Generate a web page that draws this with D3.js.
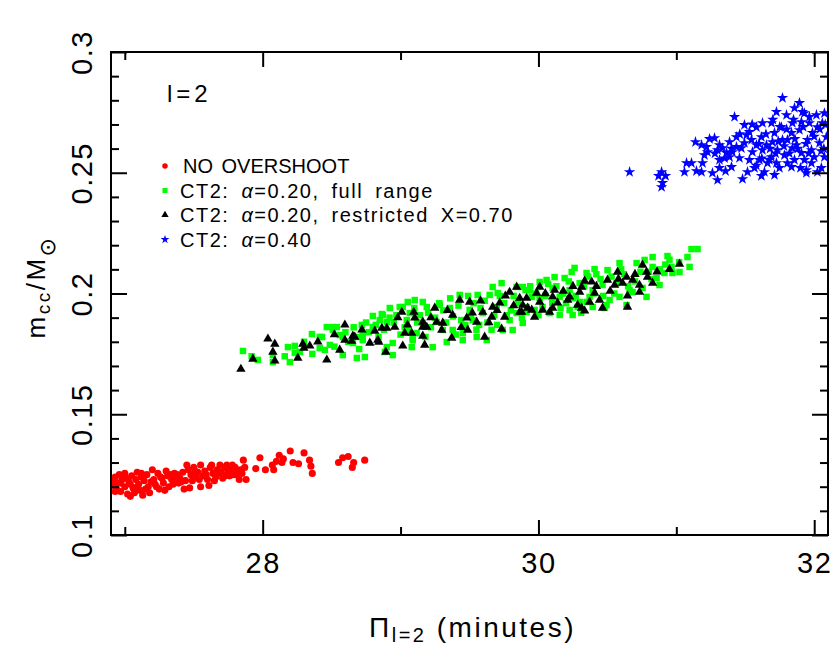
<!DOCTYPE html>
<html>
<head>
<meta charset="utf-8">
<script src="https://cdn.jsdelivr.net/npm/d3@7"></script>
<style>
  body { margin: 0; background: #fff; }
  svg { display: block; font-family: 'Liberation Sans', Arial, sans-serif; }
</style>
</head>
<body>
<div id="chart-area"></div>
<script>
// tick values
const xMajorTicks = [28, 30, 32];
const xMinorTicks = [27, 29, 31];
const yMajorTicks = [0.1, 0.15, 0.2, 0.25, 0.3];
const yMinorTicks = [0.11, 0.12, 0.13, 0.14, 0.16, 0.17, 0.18, 0.19, 0.21, 0.22, 0.23, 0.24, 0.26, 0.27, 0.28, 0.29];

const legendLabels = ['NO OVERSHOOT', 'CT2: |α|=0.20, full range', 'CT2: |α|=0.20, restricted X=0.70', 'CT2: |α|=0.40'];

// [period (min), m_cc/Msun]
const noOvershoot = [
  [26.91,0.1225],[26.92,0.1205],[26.93,0.1240],[26.94,0.1190],[26.95,0.1215],[26.96,0.1250],[26.97,0.1180],[26.98,0.1230],
  [27.00,0.1255],[27.00,0.1200],[27.02,0.1170],[27.03,0.1220],[27.04,0.1160],[27.05,0.1245],[27.06,0.1195],[27.08,0.1230],
  [27.09,0.1260],[27.10,0.1210],[27.11,0.1185],[27.12,0.1240],[27.13,0.1165],[27.14,0.1225],[27.16,0.1250],[27.17,0.1200],
  [27.18,0.1175],[27.20,0.1270],[27.21,0.1230],[27.22,0.1210],[27.24,0.1255],[27.25,0.1190],[27.26,0.1240],[27.28,0.1215],
  [27.30,0.1265],[27.31,0.1245],[27.32,0.1200],[27.34,0.1230],[27.36,0.1255],[27.38,0.1250],[27.39,0.1215],[27.40,0.1235],
  [27.42,0.1260],[27.44,0.1225],[27.45,0.1290],[27.46,0.1270],[27.47,0.1195],[27.48,0.1250],[27.50,0.1280],[27.52,0.1240],
  [27.53,0.1260],[27.55,0.1200],[27.55,0.1290],[27.57,0.1245],[27.58,0.1265],[27.60,0.1230],[27.62,0.1280],[27.63,0.1290],
  [27.64,0.1255],[27.66,0.1240],[27.67,0.1270],[27.69,0.1290],[27.70,0.1260],[27.72,0.1280],[27.73,0.1245],[27.74,0.1290],
  [27.75,0.1265],[27.77,0.1270],[27.79,0.1250],[27.80,0.1280],[27.82,0.1265],[27.83,0.1230],[27.84,0.1270],[27.86,0.1310],
  [27.87,0.1280],[27.88,0.1230],[27.95,0.1275],[27.98,0.1320],[28.02,0.1270],[28.07,0.1290],[28.08,0.1270],[28.10,0.1305],
  [28.12,0.1330],[28.14,0.1300],[28.15,0.1315],[28.20,0.1348],[28.22,0.1300],[28.26,0.1295],[28.30,0.1340],[28.34,0.1310],
  [28.35,0.1285],[28.36,0.1255],[28.55,0.1300],[28.58,0.1320],[28.62,0.1325],[28.65,0.1280],[28.66,0.1300],[28.74,0.1310],
  [26.90,0.1230],[26.93,0.1180],[26.97,0.1215],[27.01,0.1235],[27.04,0.1210],[27.07,0.1175],[27.09,0.1200],[27.12,0.1255],
  [27.15,0.1190],[27.19,0.1220],[27.23,0.1200],[27.27,0.1235],[27.29,0.1185],[27.33,0.1250],[27.35,0.1210],[27.37,0.1235],
  [27.41,0.1220],[27.43,0.1190],[27.49,0.1225],[27.51,0.1265],[27.54,0.1230],[27.59,0.1250],[27.61,0.1205],[27.65,0.1225],
  [27.68,0.1255],[27.71,0.1235],[27.76,0.1245],[27.78,0.1290],[27.81,0.1250],[27.85,0.1255]
];

const ct2Full = [
  [27.857,0.1762],[27.965,0.1725],[28.074,0.1745],[28.074,0.1716],[28.183,0.1778],[28.233,0.1783],[28.197,0.1716],[28.233,0.1754],
  [28.270,0.1758],[28.357,0.1832],[28.414,0.1820],[28.414,0.1774],[28.465,0.1861],[28.487,0.1787],[28.451,0.1766],[28.509,0.1849],
  [28.538,0.1861],[28.559,0.1828],[28.581,0.1745],[28.683,0.1733],[28.741,0.1737],[28.719,0.1870],[28.799,0.1907],[28.871,0.1911],
  [28.683,0.1820],[28.726,0.1828],[28.900,0.1882],[28.943,0.1745],[28.886,0.1758],[29.103,0.1973],[29.161,0.1965],[29.016,0.1944],
  [29.067,0.1919],[29.081,0.1778],[29.088,0.1816],[28.864,0.1915],[29.052,0.1965],[29.284,0.1952],[29.357,0.1940],[29.429,0.1994],
  [29.559,0.1994],[29.646,0.1994],[29.704,0.2002],[29.668,0.2027],[29.733,0.2043],[29.842,0.2027],[29.907,0.2014],[29.914,0.1923],
  [29.813,0.1849],[29.741,0.1849],[29.625,0.1807],[29.552,0.1820],[29.451,0.1807],[29.335,0.1799],[29.233,0.1778],[29.088,0.1807],
  [28.943,0.1795],[28.900,0.1778],[28.726,0.1807],[28.654,0.1795],[28.581,0.1820],[28.509,0.1861],[28.799,0.1861],[29.161,0.1878],
  [29.262,0.1882],[29.523,0.1890],[29.791,0.1890],[29.886,0.1878],[29.842,0.1919],[29.697,0.1944],[29.596,0.1919],[29.501,0.1932],
  [29.190,0.1944],[28.994,0.1944],[28.922,0.1940],[28.849,0.1890],[29.045,0.1890],[29.117,0.1836],[29.378,0.1849],[29.451,0.1836],
  [29.306,0.1849],[31.110,0.2184],[31.154,0.2184],[31.081,0.2151],[30.936,0.2155],[30.965,0.2110],[31.023,0.2089],[31.096,0.2110],
  [30.972,0.2085],[30.914,0.2085],[30.828,0.2151],[30.770,0.2139],[30.828,0.2110],[30.712,0.2126],[30.588,0.2126],[30.501,0.2097],
  [30.407,0.2101],[30.349,0.2085],[30.262,0.2106],[30.241,0.2089],[30.117,0.2068],[30.009,0.2048],[29.886,0.2027],[29.936,0.2014],
  [30.059,0.2056],[30.190,0.2064],[30.299,0.2043],[30.465,0.2035],[30.393,0.2014],[30.226,0.2014],[30.103,0.2023],[30.567,0.2043],
  [30.661,0.2014],[30.755,0.2023],[30.857,0.2064],[30.878,0.2035],[30.784,0.1986],[30.683,0.2006],[30.588,0.1986],[30.516,0.1973],
  [30.494,0.1952],[30.393,0.1944],[30.284,0.1944],[30.226,0.1932],[30.154,0.1911],[30.081,0.1919],[29.972,0.1932],[29.914,0.1944],
  [30.030,0.1944],[30.349,0.1965],[30.639,0.1952],[30.480,0.1940],[30.248,0.1981],[30.154,0.1986],[30.009,0.1981],[29.951,0.1986],
  [30.371,0.1986],[30.248,0.1911],[30.299,0.1965],
  [29.20,0.1920],[29.25,0.1900],[29.31,0.1930],[29.38,0.1905],[29.42,0.1950],[29.47,0.1870],[29.53,0.1960],[29.58,0.1940],
  [29.63,0.1880],[29.68,0.1910],[29.75,0.1960],[29.80,0.1930],[29.12,0.1880],[29.03,0.1860],[28.95,0.1880],[28.88,0.1850],
  [28.77,0.1840],[28.62,0.1800],[28.70,0.1770],[29.40,0.1830],[29.55,0.1850],[29.70,0.1870],[29.85,0.1960],[30.05,0.1990],
  [30.18,0.2000],[30.33,0.2030],[30.45,0.2060],[30.53,0.2070],[30.62,0.2080],[30.70,0.2050],[30.80,0.2090],[30.92,0.2120],
  [30.10,0.1960],[30.20,0.1960],[30.40,0.2000],[29.98,0.2000],
  [28.60,0.1840],[28.66,0.1860],[28.75,0.1880],[28.82,0.1870],[28.84,0.1820],[28.92,0.1900],[28.97,0.1910],[29.00,0.1830],
  [29.06,0.1850],[29.10,0.1940],[29.14,0.1910],[29.18,0.1820],[29.22,0.1860],[29.28,0.1960],[29.33,0.1880],[29.36,0.1980],
  [29.44,0.1890],[29.49,0.1990],[29.51,0.1910],[29.57,0.1870],[29.61,0.1970],[29.66,0.1850],[29.72,0.1990],[29.77,0.1910],
  [29.82,0.1990],[29.88,0.1900],[29.94,0.2030],[30.00,0.1910],[30.07,0.2040],[30.13,0.2030],[30.16,0.1940],[30.22,0.2050],
  [30.27,0.1990],[30.31,0.1920],[30.36,0.2070],[30.42,0.2080],[30.47,0.1990],[30.55,0.2000],[30.60,0.2100],[30.65,0.2030],
  [30.74,0.2090],[30.82,0.2060],[30.88,0.2100],[30.95,0.2140],[31.02,0.2130],[28.30,0.1800],[28.36,0.1750],[28.43,0.1820],
  [28.52,0.1780],[28.16,0.1740],[27.92,0.1740]
];

const ct2Restricted = [
  [27.842,0.1687],[27.929,0.1729],[28.038,0.1812],[28.088,0.1791],[28.074,0.1758],[28.088,0.1721],[28.255,0.1733],[28.291,0.1791],
  [28.299,0.1774],[28.342,0.1783],[28.465,0.1725],[28.559,0.1766],[28.596,0.1870],[28.596,0.1807],[28.654,0.1824],[28.646,0.1803],
  [28.777,0.1795],[28.813,0.1845],[28.842,0.1799],[28.864,0.1857],[28.900,0.1857],[28.958,0.1861],[28.893,0.1758],[29.016,0.1783],
  [29.009,0.1923],[29.030,0.1836],[29.081,0.1836],[29.096,0.1923],[29.161,0.1882],[29.161,0.1824],[29.161,0.1861],[28.668,0.1820],
  [28.835,0.1807],[29.103,0.1899],[29.190,0.1861],[29.248,0.1940],[29.262,0.1882],[29.306,0.1878],[29.299,0.1849],[29.371,0.1816],
  [29.378,0.1911],[29.480,0.1899],[29.429,0.1973],[29.501,0.1965],[29.487,0.1849],[29.552,0.1882],[29.610,0.1820],[29.596,0.1923],
  [29.668,0.1944],[29.661,0.1903],[29.719,0.1961],[29.733,0.1853],[29.791,0.2006],[29.842,0.2027],[29.755,0.1903],[29.878,0.1923],
  [29.922,0.1940],[29.864,0.1981],[29.175,0.1787],[31.023,0.2122],[30.755,0.2118],[30.784,0.2089],[30.791,0.2068],[30.828,0.2043],
  [30.733,0.2035],[30.733,0.2006],[30.646,0.1990],[30.683,0.2056],[30.639,0.2068],[30.610,0.2043],[30.574,0.2089],[30.552,0.2035],
  [30.501,0.2056],[30.386,0.2048],[30.335,0.2052],[30.313,0.2027],[30.299,0.2006],[30.407,0.2002],[30.443,0.1973],[30.371,0.1965],
  [30.284,0.1952],[30.313,0.1940],[30.465,0.1940],[30.335,0.1928],[30.226,0.1986],[30.212,0.1973],[30.117,0.2014],[30.103,0.1986],
  [30.139,0.1961],[30.103,0.1940],[30.081,0.1923],[30.009,0.2027],[29.987,0.2002],[30.009,0.1965],[30.030,0.1932],[29.951,0.1932],
  [29.914,0.1981],[29.886,0.1952],[29.864,0.1923],[29.972,0.1903],[30.646,0.1944],
  [28.40,0.1800],[28.52,0.1830],[28.72,0.1850],[28.98,0.1900],[29.05,0.1870],[29.22,0.1900],[29.34,0.1930],[29.44,0.1860],
  [29.52,0.1920],[29.58,0.1970],[29.64,0.1880],[29.70,0.1930],[29.76,0.1990],[29.82,0.1950],[30.05,0.2000],[30.18,0.2010],
  [30.25,0.2030],[30.42,0.2030],[30.52,0.2010],[30.58,0.2060],[30.70,0.2080],[30.86,0.2090],[30.95,0.2100]
];

const ct2Alpha40 = [
  [30.661,0.2503],[30.871,0.2487],[30.893,0.2503],[30.922,0.2487],[30.900,0.2458],[30.893,0.2441],[31.059,0.2503],[31.074,0.2540],
  [31.110,0.2540],[31.139,0.2627],[31.146,0.2507],[31.183,0.2503],[31.190,0.2540],[31.204,0.2573],[31.226,0.2586],[31.183,0.2615],
  [31.241,0.2640],[31.277,0.2644],[31.219,0.2607],[31.262,0.2499],[31.299,0.2470],[31.313,0.2520],[31.313,0.2553],[31.299,0.2594],
  [31.335,0.2602],[31.364,0.2582],[31.400,0.2524],[31.357,0.2507],[31.386,0.2565],[31.407,0.2586],[31.386,0.2627],[31.422,0.2731],
  [31.436,0.2607],[31.472,0.2602],[31.458,0.2561],[31.480,0.2474],[31.516,0.2503],[31.530,0.2553],[31.494,0.2623],[31.509,0.2656],
  [31.494,0.2698],[31.545,0.2636],[31.552,0.2586],[31.581,0.2689],[31.567,0.2520],[31.603,0.2553],[31.625,0.2594],[31.617,0.2648],
  [31.625,0.2706],[31.654,0.2615],[31.639,0.2503],[31.617,0.2487],[31.661,0.2540],[31.690,0.2565],[31.712,0.2665],[31.712,0.2491],
  [31.726,0.2752],[31.690,0.2706],[31.726,0.2540],[31.733,0.2594],[31.770,0.2810],[31.762,0.2689],[31.770,0.2636],[31.784,0.2573],
  [31.799,0.2739],[31.806,0.2540],[31.835,0.2524],[31.835,0.2665],[31.842,0.2706],[31.857,0.2768],[31.871,0.2615],[31.893,0.2789],
  [31.893,0.2677],[31.907,0.2582],[31.914,0.2752],[31.929,0.2553],[31.943,0.2511],[31.951,0.2636],[31.965,0.2706],[31.965,0.2731],
  [31.980,0.2594],[31.987,0.2665],[32.001,0.2565],[32.016,0.2739],[32.023,0.2689],[32.038,0.2623],[32.052,0.2520],[32.059,0.2706],
  [32.074,0.2747],[32.074,0.2565],[32.088,0.2648],[32.023,0.2503],[31.943,0.2499],[31.842,0.2602],[31.806,0.2636],[31.697,0.2627],
  [31.581,0.2615],[31.530,0.2669],[31.436,0.2648],[31.313,0.2615],[31.675,0.2553],[31.748,0.2520],[31.857,0.2553],[31.907,0.2710],
  [31.929,0.2747],
  [31.60,0.2620],[31.65,0.2660],[31.68,0.2600],[31.74,0.2630],[31.78,0.2610],[31.82,0.2580],[31.86,0.2640],[31.88,0.2600],
  [31.92,0.2690],[31.96,0.2580],[32.00,0.2650],[32.04,0.2680],[32.07,0.2600],[31.98,0.2540],[31.90,0.2520],[31.75,0.2690],
  [31.70,0.2720],[31.55,0.2700],[31.46,0.2660],[31.40,0.2600],[31.35,0.2560],[31.28,0.2580],[31.62,0.2560],[31.80,0.2680],
  [31.94,0.2620],[32.05,0.2590],[32.08,0.2700],[31.85,0.2720],[31.72,0.2580],[31.58,0.2530]
];

let width = 831;
let height = 646;
let plot = { left: 111, right: 828, top: 52, bottom: 535 };

let series = [
  { data: noOvershoot, symbol: d3.symbolCircle, size: 40, color: '#ff0000' },
  { data: ct2Full, symbol: d3.symbolSquare, size: 42, color: '#00ff00' },
  { data: ct2Restricted, symbol: d3.symbolTriangle, size: 38, color: '#000000' },
  { data: ct2Alpha40, symbol: d3.symbolStar, size: 40, color: '#0000ff' },
];

let xScale = d3.scaleLinear().domain([26.9, 32.1]).range([plot.left, plot.right]);
let yScale = d3.scaleLinear().domain([0.1, 0.3]).range([plot.bottom, plot.top]);

let svg = d3
  .select('#chart-area')
  .append('svg')
  .attr('width', width)
  .attr('height', height);

svg
  .append('defs')
  .append('clipPath')
  .attr('id', 'plot-clip')
  .append('rect')
  .attr('x', plot.left)
  .attr('y', plot.top)
  .attr('width', plot.right - plot.left)
  .attr('height', plot.bottom - plot.top);

//points
let points = svg.append('g').attr('clip-path', 'url(#plot-clip)');
series.forEach((s) => {
  points
    .append('g')
    .selectAll('path')
    .data(s.data)
    .enter()
    .append('path')
    .attr('d', d3.symbol().type(s.symbol).size(s.size))
    .attr('fill', s.color)
    .attr('transform', (d) => `translate(${xScale(d[0])}, ${yScale(d[1])})`);
});

//axes, ticks pointing inwards on all four sides
function tidy(g) {
  g.select('.domain').remove();
  g.selectAll('line').attr('stroke', '#000').attr('stroke-width', 2);
}
let fmtY = (d) => String(+d.toFixed(2));

svg.append('g')
  .attr('transform', `translate(0, ${plot.bottom})`)
  .call(d3.axisBottom(xScale).tickValues(xMinorTicks).tickSize(-8).tickFormat(''))
  .call(tidy);
svg.append('g')
  .attr('class', 'x-major')
  .attr('transform', `translate(0, ${plot.bottom})`)
  .call(d3.axisBottom(xScale).tickValues(xMajorTicks).tickSizeInner(-15).tickSizeOuter(0).tickPadding(17).tickFormat(d3.format('d')))
  .call(tidy);
svg.append('g')
  .attr('transform', `translate(0, ${plot.top})`)
  .call(d3.axisTop(xScale).tickValues(xMinorTicks).tickSize(-8).tickFormat(''))
  .call(tidy);
svg.append('g')
  .attr('transform', `translate(0, ${plot.top})`)
  .call(d3.axisTop(xScale).tickValues(xMajorTicks).tickSize(-15).tickFormat(''))
  .call(tidy);

svg.append('g')
  .attr('transform', `translate(${plot.left}, 0)`)
  .call(d3.axisLeft(yScale).tickValues(yMinorTicks).tickSize(-8).tickFormat(''))
  .call(tidy);
svg.append('g')
  .attr('class', 'y-major')
  .attr('transform', `translate(${plot.left}, 0)`)
  .call(d3.axisLeft(yScale).tickValues(yMajorTicks).tickSizeInner(-16).tickSizeOuter(0).tickFormat(fmtY))
  .call(tidy);
svg.append('g')
  .attr('transform', `translate(${plot.right}, 0)`)
  .call(d3.axisRight(yScale).tickValues(yMinorTicks).tickSize(-8).tickFormat(''))
  .call(tidy);
svg.append('g')
  .attr('transform', `translate(${plot.right}, 0)`)
  .call(d3.axisRight(yScale).tickValues(yMajorTicks).tickSize(-16).tickFormat(''))
  .call(tidy);

svg.selectAll('.x-major text')
  .attr('font-size', 29)
  .attr('font-family', null)
  .attr('fill', '#000')
  .style('letter-spacing', '1.5px');
//y tick labels read bottom to top
svg.selectAll('.y-major text')
  .attr('x', 0)
  .attr('dy', null)
  .attr('text-anchor', 'middle')
  .attr('transform', 'translate(-19, 0) rotate(-90)')
  .attr('font-size', 29)
  .attr('font-family', null)
  .attr('fill', '#000')
  .style('letter-spacing', '1.5px');

//frame
svg.append('rect')
  .attr('x', plot.left)
  .attr('y', plot.top)
  .attr('width', plot.right - plot.left)
  .attr('height', plot.bottom - plot.top)
  .attr('fill', 'none')
  .attr('stroke', '#000')
  .attr('stroke-width', 2);

//x label
let xLabel = svg.append('text')
  .attr('x', (plot.left + plot.right) / 2 + 3)
  .attr('y', 637)
  .attr('text-anchor', 'middle')
  .attr('font-size', 28)
  .style('letter-spacing', '2.5px');
xLabel.append('tspan').text('Π');
xLabel.append('tspan').attr('font-size', 20).attr('dy', 5).text('l=2');
xLabel.append('tspan').attr('dy', -5).text('\u00a0(minutes)');

//y label
let yLabel = svg.append('text')
  .attr('transform', `translate(45, 287) rotate(-90)`)
  .attr('text-anchor', 'middle')
  .attr('font-size', 26)
  .style('letter-spacing', '2.5px');
yLabel.append('tspan').text('m');
yLabel.append('tspan').attr('font-size', 19).attr('dy', 5).text('cc');
yLabel.append('tspan').attr('dy', -5).text('/M');
yLabel.append('tspan').attr('font-size', 22).attr('dy', 10).attr('font-family', 'DejaVu Sans').text('⊙');

//l=2 note
svg.append('text')
  .attr('x', 167)
  .attr('y', 102)
  .attr('font-size', 24)
  .style('letter-spacing', '4px')
  .text('l=2');

//legend
let legend = svg.append('g')
  .selectAll('g')
  .data(legendLabels)
  .enter()
  .append('g')
  .attr('transform', (d, i) => `translate(165, ${173 + i * 24.5})`);
legend.append('path')
  .attr('d', (d, i) => d3.symbol().type(series[i].symbol).size(series[i].size * 0.6)())
  .attr('fill', (d, i) => series[i].color)
  .attr('transform', 'translate(0, -7)');
let legendText = legend.append('text')
  .attr('x', (d, i) => (i == 0 ? 18 : 15))
  .attr('font-size', 20)
  .style('letter-spacing', (d, i) => (i == 0 ? '0px' : '1.5px'))
  .style('word-spacing', (d, i) => (i == 0 ? '3px' : '5px'));
legendText.each(function (d) {
  //segments between bars are set in italics (greek letters)
  d.split('|').forEach((part, k) => {
    d3.select(this).append('tspan').attr('font-style', k % 2 ? 'italic' : null).text(part);
  });
});
</script>
</body>
</html>
